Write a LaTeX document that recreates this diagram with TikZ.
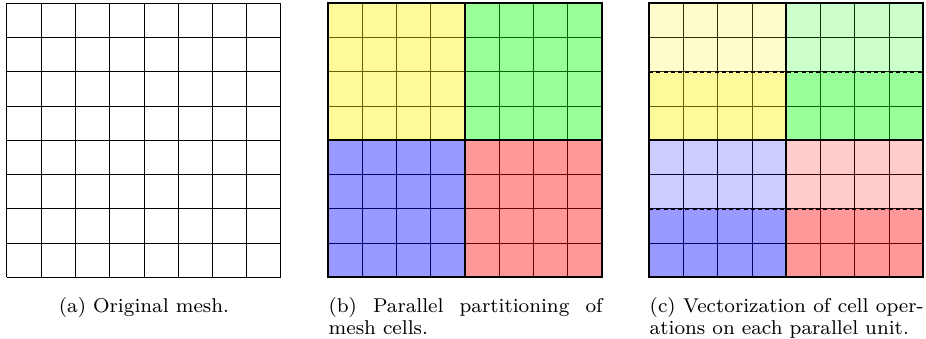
\documentclass[tikz,border=0pt]{standalone}
\usepackage{tikz}
\usetikzlibrary{positioning, calc}
\usepackage{xcolor}
\tikzset{
  % plain cell lines of every mesh
  cellgrid/.style={draw=black, line width=0.4pt},
  % outline of one 8x8 mesh (used for placing captions)
  panel/.style={
    rectangle, minimum width=109.6pt, minimum height=109.6pt,
    inner sep=0pt, outer sep=0pt
  },
  % partition fills, laid over the grid so the lines pick up the tint
  partFill/.style={fill=#1, fill opacity=0.4},
  vecFill/.style ={fill=#1, fill opacity=0.2},
  partLine/.style={line width=0.8pt},
  vecLine/.style ={line width=0.8pt, dash pattern=on 1.6pt off 1.3pt},
  caption/.style={font=\fontsize{8}{9}\selectfont, inner sep=0pt},
  capbox/.style={caption, text width=109.6pt, align=justify}
}

\begin{document}
\begin{tikzpicture}[x=13.7pt, y=13.7pt]
  \useasboundingbox (-0.204,-1.796) rectangle (26.83,8.096);

  %% ── (a) Original mesh ───────────────────────────────────────────────
  \draw[cellgrid, step={(1,1)}] (0,0) grid (8,8);
  \node[panel] (meshA) at (4,4) {};
  \node[caption, below=7.8pt of meshA] (capA) {(a) Original mesh.};

  %% ── (b) Parallel partitioning ───────────────────────────────────────
  \begin{scope}[shift={(9.375,0)}]
    \draw[cellgrid, step={(1,1)}] (0,0) grid (8,8);
    \foreach \col/\px/\py in {yellow/0/4, green/4/4, blue/0/0, red/4/0}
      \fill[partFill=\col] (\px,\py) rectangle ++(4,4);
    \draw[partLine] (4,0) -- (4,8) (0,4) -- (8,4);
    \node[panel, draw, partLine] (meshB) at (4,4) {};
  \end{scope}
  \node[capbox, anchor=north west] (capB) at ([yshift=-7.8pt]meshB.south west)
    {(b) Parallel partitioning of mesh cells.};

  %% ── (c) Vectorization on each unit ──────────────────────────────────
  \begin{scope}[shift={(18.75,0)}]
    \draw[cellgrid, step={(1,1)}] (0,0) grid (8,8);
    % upper half of each unit lighter, lower half as in (b)
    \foreach \col/\px/\py in {yellow/0/4, green/4/4, blue/0/0, red/4/0} {
      \fill[vecFill=\col]  (\px,\py+2) rectangle ++(4,2);
      \fill[partFill=\col] (\px,\py)   rectangle ++(4,2);
    }
    \draw[vecLine] (0,2) -- (8,2) (0,6) -- (8,6);
    \draw[partLine] (4,0) -- (4,8) (0,4) -- (8,4);
    \node[panel, draw, partLine] (meshC) at (4,4) {};
  \end{scope}
  \node[capbox, anchor=north west] (capC) at ([yshift=-7.8pt]meshC.south west)
    {(c) Vectorization of cell operations on each parallel unit.};

\end{tikzpicture}
\end{document}
